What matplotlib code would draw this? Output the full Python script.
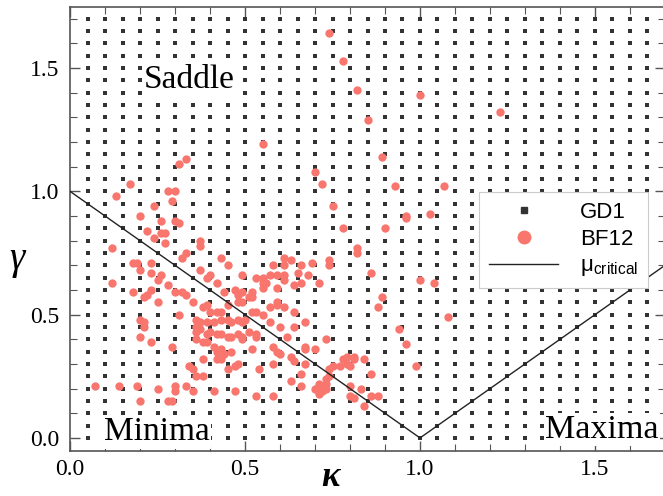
import numpy as np
import matplotlib.pyplot as plt
from matplotlib.lines import Line2D
from matplotlib.ticker import MultipleLocator

# GD1 grid
gd1_kappa = np.arange(1, 34) * 0.05
gd1_gamma = np.arange(0, 35) * 0.05

# BF12 points (kappa, gamma)
bf12_kappa = [
    0.74, 0.78, 0.82, 1.00, 1.23, 0.85, 0.55, 0.89, 0.93, 1.07, 0.75, 0.96, 0.96, 1.03, 0.78, 0.90, 0.82, 0.82, 0.70, 0.72,
    0.33, 0.31, 0.17, 0.13, 0.28, 0.30, 0.29, 0.24, 0.20, 0.26, 0.30, 0.31, 0.22, 0.26, 0.27, 0.24, 0.27, 0.37, 0.37, 0.12,
    0.33, 0.32, 0.43, 0.18, 0.19, 0.23, 0.45, 0.20, 0.23, 0.37, 0.40, 0.39, 0.49, 0.26,
    0.74, 0.74, 0.61, 0.63, 0.69, 0.58, 0.61, 0.66, 0.65, 0.86, 0.59, 0.57, 0.53, 0.55, 0.61, 0.68,
    0.12, 0.25, 0.28, 0.18, 0.21, 0.22, 0.23, 0.30, 0.32, 0.33, 0.25, 0.35, 0.38, 0.39, 0.40, 0.42, 0.43, 0.31, 0.20, 0.21,
    0.21, 0.20, 0.23, 0.29, 0.36, 0.37, 0.36, 0.37, 0.36, 0.39, 0.41, 0.43, 0.45, 0.46, 0.48, 0.49, 0.50,
    0.39, 0.40, 0.42, 0.43, 0.45, 0.46, 0.48, 0.49, 0.49, 0.51, 0.36, 0.38, 0.39, 0.41, 0.42, 0.43, 0.44, 0.46,
    0.38, 0.42, 0.43, 0.34, 0.35, 0.45, 0.47, 0.48, 0.36, 0.38,
    0.07, 0.14, 0.19, 0.25, 0.30, 0.30, 0.33, 0.35, 0.41, 0.47, 0.20, 0.28, 0.29,
    0.42, 0.44, 0.47, 0.48, 0.49, 0.51, 0.45, 0.48, 0.49,
    0.52, 0.52, 0.55, 0.56, 0.55, 0.59, 0.59, 0.59, 0.61, 0.64, 0.66, 0.71, 0.52, 0.53, 0.55, 0.57, 0.61, 0.64, 0.57, 0.60,
    0.64, 0.67, 0.53, 0.53, 0.62, 0.73, 0.52, 0.58, 0.59, 0.60, 0.67, 0.67, 0.70, 0.63, 0.64, 0.58, 0.67, 0.54,
    0.78, 0.79, 0.81, 0.81, 0.79, 0.80, 0.75, 0.77, 0.74, 0.84, 0.74, 0.73, 0.73, 0.86, 0.66, 0.63, 0.66, 0.71, 0.71, 0.72,
    0.71, 0.72, 0.73, 0.70, 0.80, 0.83, 0.80, 0.81, 0.86, 0.88, 0.84, 0.53, 0.58, 0.89, 0.88, 0.94, 0.96, 0.99, 1.00, 1.04,
    1.08,
]
bf12_gamma = [
    1.64, 1.53, 1.41, 1.39, 1.32, 1.29, 1.19, 1.14, 1.02, 1.02, 0.94, 0.90, 0.89, 0.91, 0.85, 0.85, 0.77, 0.75, 1.08, 1.03,
    1.13, 1.11, 1.03, 0.98, 1.00, 1.00, 0.96, 0.94, 0.90, 0.88, 0.88, 0.87, 0.84, 0.83, 0.83, 0.81, 0.79, 0.80, 0.78, 0.77,
    0.75, 0.73, 0.73, 0.71, 0.71, 0.71, 0.70, 0.68, 0.67, 0.68, 0.66, 0.65, 0.66, 0.66,
    0.72, 0.70, 0.73, 0.72, 0.71, 0.70, 0.70, 0.70, 0.67, 0.67, 0.66, 0.66, 0.65, 0.65, 0.66, 0.66,
    0.63, 0.64, 0.62, 0.59, 0.57, 0.58, 0.60, 0.59, 0.59, 0.58, 0.55, 0.55, 0.53, 0.54, 0.51, 0.51, 0.51, 0.50, 0.48, 0.47,
    0.45, 0.41, 0.39, 0.37, 0.48, 0.47, 0.45, 0.44, 0.43, 0.47, 0.47, 0.48, 0.48, 0.47, 0.48, 0.47, 0.48,
    0.42, 0.43, 0.42, 0.42, 0.41, 0.41, 0.42, 0.40, 0.41, 0.43, 0.40, 0.39, 0.39, 0.37, 0.35, 0.36, 0.34, 0.35,
    0.32, 0.32, 0.32, 0.29, 0.28, 0.28, 0.29, 0.30, 0.25, 0.25,
    0.21, 0.21, 0.21, 0.20, 0.21, 0.19, 0.21, 0.19, 0.19, 0.19, 0.15, 0.15, 0.15,
    0.63, 0.59, 0.60, 0.58, 0.59, 0.57, 0.54, 0.55, 0.55,
    0.59, 0.57, 0.63, 0.63, 0.61, 0.61, 0.55, 0.54, 0.64, 0.62, 0.63, 0.63, 0.51, 0.51, 0.50, 0.53, 0.53, 0.51, 0.47, 0.45,
    0.45, 0.47, 0.42, 0.41, 0.41, 0.40, 0.36, 0.37, 0.35, 0.34, 0.37, 0.36, 0.36, 0.33, 0.31, 0.30, 0.30, 0.28,
    0.32, 0.33, 0.32, 0.33, 0.30, 0.29, 0.29, 0.29, 0.28, 0.32, 0.25, 0.24, 0.22, 0.26, 0.26, 0.23, 0.21, 0.22, 0.21, 0.19,
    0.18, 0.19, 0.20, 0.20, 0.21, 0.20, 0.17, 0.16, 0.17, 0.17, 0.13, 0.17, 0.17, 0.57, 0.53, 0.44, 0.38, 0.29, 0.64, 0.63,
    0.49,
]

crit_kappa = [0.0, 1.0, 1.7]
crit_gamma = [1.0, 0.0, 0.7]

salmon = '#f8766d'
grid_col = '#333333'

fig = plt.figure(figsize=(6.63, 4.96), dpi=100)
ax = fig.add_axes([0.1056, 0.0907, 0.8974, 0.895])

gk, gg = np.meshgrid(gd1_kappa, gd1_gamma)
ax.scatter(gk.ravel(), gg.ravel(), marker='s', s=5, color=grid_col, linewidths=0, zorder=2)
ax.scatter(bf12_kappa, bf12_gamma, s=36, color=salmon, linewidths=0, zorder=3)
ax.plot(crit_kappa, crit_gamma, color='#222222', lw=1.0, zorder=4)

ax.set_xlim(0, 1.7)
ax.set_ylim(-0.053, 1.747)

ax.xaxis.set_major_locator(MultipleLocator(0.5))
ax.xaxis.set_minor_locator(MultipleLocator(0.1))
ax.yaxis.set_major_locator(MultipleLocator(0.5))
ax.yaxis.set_minor_locator(MultipleLocator(0.1))
ax.tick_params(which='both', direction='in', top=True, right=True, color='#555555')
ax.tick_params(which='major', length=7, width=1)
ax.tick_params(which='minor', length=5, width=0.8)
ax.tick_params(axis='y', which='major', pad=8)
ax.tick_params(axis='x', which='major', pad=6)
for lab in ax.get_xticklabels() + ax.get_yticklabels():
    lab.set_fontfamily('Liberation Serif')
    lab.set_fontsize(17)
for sp in ax.spines.values():
    sp.set_color('#555555')
    sp.set_linewidth(1.2)

fig.text(0.499, 0.005, 'κ', family='Liberation Serif', style='italic', weight='bold',
         fontsize=25, ha='center', va='bottom')
fig.text(0.026, 0.476, 'γ', family='Liberation Serif', style='italic',
         fontsize=28, ha='center', va='center')

box = dict(facecolor='white', edgecolor='none', pad=1)
ax.text(0.21, 1.42, 'Saddle', family='Liberation Serif', fontsize=24, zorder=5, bbox=box)
ax.text(0.097, -0.01, 'Minima', family='Liberation Serif', fontsize=24, zorder=5, bbox=box)
ax.text(1.357, 0.0, 'Maxima', family='Liberation Serif', fontsize=24.5, zorder=5, bbox=box)

handles = [
    Line2D([], [], marker='s', ls='none', color=grid_col, markersize=5),
    Line2D([], [], marker='o', ls='none', color=salmon, markersize=9),
    Line2D([], [], color='#222222', lw=1.0),
]
labels = ['GD1', 'BF12', r'μ$_{\mathregular{critical}}$']
leg = ax.legend(handles, labels, loc='upper right', bbox_to_anchor=(0.972, 0.583),
                borderaxespad=0,
                prop={'family': 'Liberation Sans', 'size': 16}, handlelength=3.1,
                fancybox=False, framealpha=1, edgecolor='#cccccc',
                borderpad=0.45, labelspacing=0.25, handletextpad=1.0)
leg.get_frame().set_linewidth(0.8)

fig.savefig('out.png', dpi=100)
